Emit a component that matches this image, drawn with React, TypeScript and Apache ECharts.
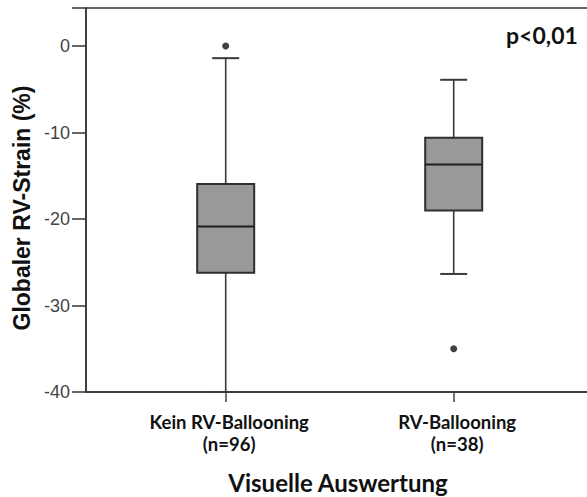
import React, { useEffect, useRef } from "react";
import * as echarts from "echarts";

// Groups on the x axis (placed at positions 1 and 2)
const groupNames = ["Kein RV-Ballooning\n(n=96)", "RV-Ballooning\n(n=38)"];
const groupPos = [1, 2];

// Box statistics per group: [lower whisker, Q1, median, Q3, upper whisker]
const kein = [-40, -26.2, -20.85, -15.95, -1.4];
const ballooning = [-26.35, -19.0, -13.7, -10.6, -3.9];
const boxStats = [kein, ballooning];

// Outliers: [group position, value]
const outliers = [
  [1, 0],
  [2, -35],
];

const yTicks = [-40, -30, -20, -10, 0];

export default function App() {
  const ref = useRef<HTMLDivElement>(null);

  useEffect(() => {
    if (!ref.current) return;
    const chart = echarts.init(ref.current, null, { renderer: "svg" });

    const boxData = boxStats.map((s, i) => [groupPos[i], ...s]);

    const option: any = {
      animation: false,
      backgroundColor: "#ffffff",
      grid: {
        left: 86,
        right: -10,
        top: 8,
        bottom: 105,
        outerBoundsMode: "none",
        containLabel: false,
        show: true,
        borderColor: "#333",
        borderWidth: 1.5,
        backgroundColor: "transparent",
      },
      xAxis: {
        type: "value",
        min: 0.3873,
        max: 2.6285,
        splitLine: { show: false },
        axisLine: { show: true, onZero: false, lineStyle: { color: "#333", width: 1.5 } },
        axisTick: {
          show: true,
          customValues: groupPos,
          length: 10,
          lineStyle: { color: "#444", width: 1.5 },
        },
        axisLabel: {
          customValues: groupPos,
          formatter: (v: number) => groupNames[groupPos.indexOf(v)] ?? "",
          fontFamily: "Lato",
          fontWeight: "bold",
          fontSize: 18.5,
          lineHeight: 22,
          color: "#111",
          margin: 19,
          padding: [0, 0, 0, 7],
        },
      },
      yAxis: {
        type: "value",
        min: -40,
        max: 4.4,
        interval: 10,
        splitLine: { show: false },
        axisLine: { show: true, onZero: false, lineStyle: { color: "#333", width: 1.5 } },
        axisTick: { show: true, length: 14, lineStyle: { color: "#333", width: 1.5 } },
        axisLabel: {
          formatter: (v: number) => (yTicks.includes(v) ? String(v) : ""),
          fontFamily: "Liberation Sans",
          fontSize: 18,
          color: "#444",
          margin: 16,
        },
      },
      series: [
        {
          type: "custom",
          data: boxData,
          encode: { x: 0, y: [1, 2, 3, 4, 5] },
          renderItem: (params: any, api: any) => {
            const x = api.value(0);
            const lo = api.coord([x, api.value(1)]);
            const q1 = api.coord([x, api.value(2)]);
            const med = api.coord([x, api.value(3)]);
            const q3 = api.coord([x, api.value(4)]);
            const hi = api.coord([x, api.value(5)]);
            const cx = lo[0];
            const boxW = 57;
            const capW = 27;
            const lineStyle = { stroke: "#3a3a3a", lineWidth: 1.6 };
            return {
              type: "group",
              children: [
                { type: "line", shape: { x1: cx, y1: hi[1], x2: cx, y2: q3[1] }, style: lineStyle },
                { type: "line", shape: { x1: cx, y1: q1[1], x2: cx, y2: lo[1] }, style: lineStyle },
                { type: "line", shape: { x1: cx - capW / 2, y1: hi[1], x2: cx + capW / 2, y2: hi[1] }, style: { stroke: "#3a3a3a", lineWidth: 2 } },
                { type: "line", shape: { x1: cx - capW / 2, y1: lo[1], x2: cx + capW / 2, y2: lo[1] }, style: { stroke: "#3a3a3a", lineWidth: 2 } },
                {
                  type: "rect",
                  shape: { x: cx - boxW / 2, y: q3[1], width: boxW, height: q1[1] - q3[1] },
                  style: { fill: "#999999", stroke: "#2e2e2e", lineWidth: 2 },
                },
                { type: "line", shape: { x1: cx - boxW / 2, y1: med[1], x2: cx + boxW / 2, y2: med[1] }, style: { stroke: "#1e1e1e", lineWidth: 2 } },
              ],
            };
          },
          z: 2,
        },
        {
          type: "scatter",
          data: outliers,
          symbol: "circle",
          symbolSize: 7,
          itemStyle: { color: "#111" },
          z: 3,
        },
      ],
      graphic: [
        {
          type: "text",
          x: 506,
          y: 35,
          style: {
            text: "p<0,01",
            font: "bold 23px Lato",
            fill: "#111",
            align: "left",
            verticalAlign: "middle",
          },
        },
        {
          type: "text",
          x: 22,
          y: 208,
          rotation: Math.PI / 2,
          style: {
            text: "Globaler RV-Strain (%)",
            font: "bold 23px 'Liberation Sans'",
            fill: "#111",
            align: "center",
            verticalAlign: "middle",
          },
        },
        {
          type: "text",
          x: 338,
          y: 482,
          style: {
            text: "Visuelle Auswertung",
            font: "bold 24px Lato",
            fill: "#111",
            align: "center",
            verticalAlign: "middle",
          },
        },
      ],
    };

    chart.setOption(option);
    return () => chart.dispose();
  }, []);

  return (
    <div
      ref={ref}
      style={{ position: "fixed", left: 0, top: 0, width: 587, height: 497, background: "#fff" }}
    />
  );
}
